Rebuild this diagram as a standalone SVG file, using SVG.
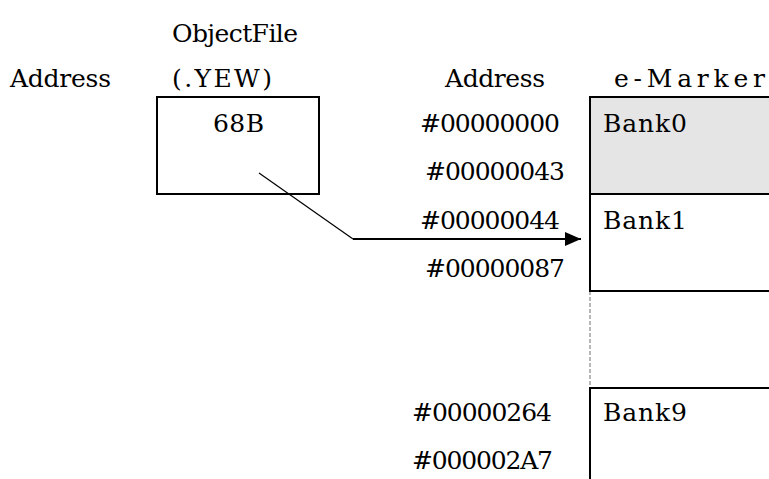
<svg xmlns="http://www.w3.org/2000/svg" width="769" height="479" viewBox="0 0 769 479">
<style>
text{font-family:"DejaVu Serif","Liberation Serif",serif;font-size:25px;fill:#000}
.box{fill:#fff;stroke:#000;stroke-width:2}
.ln{stroke:#000;stroke-width:2;fill:none}
.thin{stroke:#000;stroke-width:1.2;fill:none}
</style>
<defs>
<marker id="ah" markerUnits="userSpaceOnUse" markerWidth="16" markerHeight="14" refX="16" refY="7" orient="auto">
<path d="M0,0 L16,7 L0,14 Z" fill="#000"/>
</marker>
</defs>
<g id="labels">
<text x="172" y="42" textLength="126" lengthAdjust="spacing">ObjectFile</text>
<text x="10" y="87" textLength="101" lengthAdjust="spacing">Address</text>
<text x="172" y="87" textLength="100" lengthAdjust="spacing">(.YEW)</text>
<text x="445" y="87" textLength="100" lengthAdjust="spacing">Address</text>
<text x="614" y="87" textLength="151" lengthAdjust="spacing">e-Marker</text>
</g>
<g id="objectfile">
<rect class="box" x="157" y="97" width="162" height="97"/>
<text x="213" y="132" textLength="51" lengthAdjust="spacing">68B</text>
</g>
<g id="addresses">
<text x="420" y="132" textLength="140" lengthAdjust="spacing">#00000000</text>
<text x="425" y="180" textLength="140" lengthAdjust="spacing">#00000043</text>
<text x="420" y="229" textLength="140" lengthAdjust="spacing">#00000044</text>
<text x="425" y="277" textLength="140" lengthAdjust="spacing">#00000087</text>
<text x="412" y="421" textLength="140" lengthAdjust="spacing">#00000264</text>
<text x="412" y="469" textLength="141" lengthAdjust="spacing">#000002A7</text>
</g>
<g id="bank0">
<rect x="590" y="97" width="179" height="97" fill="#e5e5e5"/>
<text x="603" y="132" textLength="84" lengthAdjust="spacing">Bank0</text>
</g>
<g id="bank1">
<text x="603" y="229" textLength="84" lengthAdjust="spacing">Bank1</text>
</g>
<g id="bank9">
<text x="603" y="421" textLength="84" lengthAdjust="spacing">Bank9</text>
</g>
<g id="emarker-lines">
<line class="ln" x1="590" y1="96" x2="590" y2="291"/>
<line x1="590" y1="291" x2="590" y2="388" stroke="#888" stroke-width="1.2" stroke-dasharray="4,2"/>
<line class="ln" x1="590" y1="388" x2="590" y2="479"/>
<line class="ln" x1="589" y1="97" x2="769" y2="97"/>
<line class="ln" x1="589" y1="194" x2="769" y2="194"/>
<line class="ln" x1="589" y1="291" x2="769" y2="291"/>
<line class="ln" x1="589" y1="388" x2="769" y2="388"/>
</g>
<g id="connectors">
<line class="thin" x1="259" y1="173" x2="353" y2="239"/>
<line class="ln" x1="353" y1="239" x2="581" y2="239" marker-end="url(#ah)"/>
</g>
</svg>
